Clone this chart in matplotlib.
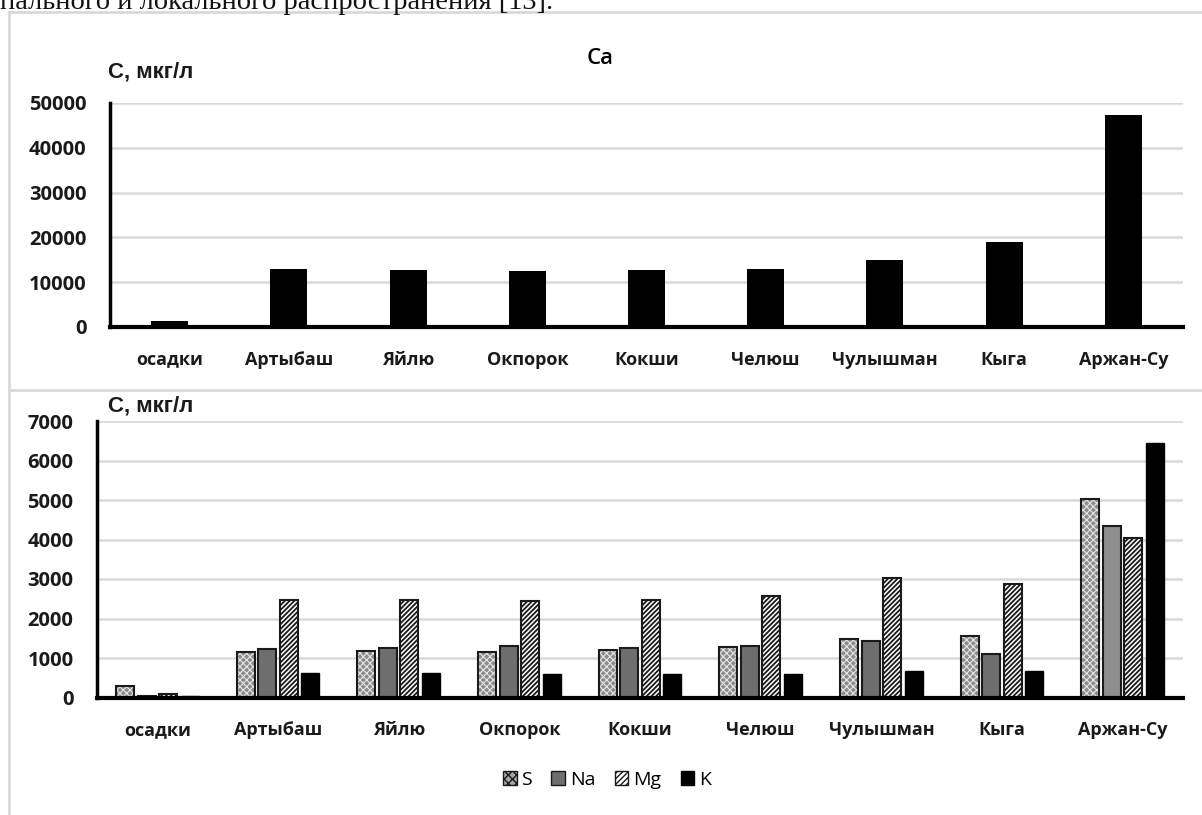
import numpy as np
import matplotlib.pyplot as plt
from matplotlib.patches import Patch

plt.rcParams['hatch.linewidth'] = 1.0

sites = ['осадки', 'Артыбаш', 'Яйлю', 'Окпорок', 'Кокши', 'Челюш', 'Чулышман', 'Кыга', 'Аржан-Су']
ca = [1300, 12950, 12650, 12500, 12650, 13000, 14950, 19000, 47300]
s_vals = [290, 1140, 1180, 1140, 1190, 1270, 1490, 1550, 5025]
na_vals = [45, 1235, 1265, 1295, 1250, 1295, 1440, 1105, 4345]
mg_vals = [85, 2480, 2465, 2440, 2480, 2580, 3020, 2875, 4040]
k_vals = [45, 610, 610, 605, 595, 600, 660, 680, 6455]

W, H = 1202, 815
fig = plt.figure(figsize=(W / 100, H / 100), dpi=100)

lab_font = ['Open Sans', 'DejaVu Sans']
grid_c = '#d9d9d9'


def px_axes(left, top, right, bottom):
    return fig.add_axes([left / W, 1 - bottom / H, (right - left) / W, (bottom - top) / H])


def style(ax, ymax, step):
    ax.set_ylim(0, ymax)
    ax.set_xlim(-0.5, len(sites) - 0.5)
    ax.set_yticks(np.arange(0, ymax + 1, step))
    ax.set_xticks(np.arange(len(sites)))
    ax.set_xticklabels(sites)
    for sp in ['top', 'right']:
        ax.spines[sp].set_visible(False)
    ax.spines['left'].set_linewidth(2.5)
    ax.spines['bottom'].set_linewidth(3)
    ax.tick_params(length=0)
    ax.tick_params(axis='y', pad=17)
    ax.tick_params(axis='x', pad=17)
    for t in ax.get_xticklabels():
        t.set_fontsize(13)
    for t in ax.get_yticklabels():
        t.set_fontsize(14.5)
    for t in ax.get_xticklabels() + ax.get_yticklabels():
        t.set_family(lab_font)
        t.set_fontweight('bold')
        t.set_color('#1a1a1a')
    ax.yaxis.grid(True, color=grid_c, lw=1.8)
    ax.set_axisbelow(True)


# page text above the chart block (cut by the image edge)
fig.text(0, 1 - 9 / H, 'пального и локального распространения [13].',
         family='Liberation Serif', fontsize=20.5, va='baseline', ha='left', color='#111111')

# chart frames
frame_kw = dict(color=grid_c, lw=2, transform=fig.transFigure)
fig.add_artist(plt.Line2D([9 / W, 9 / W], [0, 1 - 12 / H], **frame_kw))
fig.add_artist(plt.Line2D([9 / W, 1], [1 - 12 / H, 1 - 12 / H], **frame_kw))
fig.add_artist(plt.Line2D([9 / W, 1], [1 - 390 / H, 1 - 390 / H], **frame_kw))

# Ca panel
ax1 = px_axes(110, 103, 1183, 327)
x = np.arange(len(sites))
ax1.bar(x, ca, width=0.31, color='black')
style(ax1, 50000, 10000)
fig.text(600 / W, 1 - 58 / H, 'Ca', family=lab_font, fontweight='semibold', fontsize=16,
         ha='center', va='center')
fig.text(108 / W, 1 - 72 / H, 'С, мкг/л', family='Liberation Sans', fontweight='bold',
         fontsize=16, ha='left', va='center', color='#1a1a1a')

# S, Na, Mg, K panel
ax2 = px_axes(97, 421, 1183, 697.5)
bw = 0.15
step = 0.178
offs = (np.arange(4) - 1.5) * step
na_colors = ['#6e6e6e'] * (len(sites) - 1) + ['#8f8f8f']

plt.rcParams['hatch.linewidth'] = 0.8
ax2.bar(x + offs[0], s_vals, width=bw, color='#8c8c8c', edgecolor='#e6e6e6', hatch='xxxxx', lw=0)
ax2.bar(x + offs[0], s_vals, width=bw, fill=False, edgecolor='#1a1a1a', lw=1.5)
ax2.bar(x + offs[1], na_vals, width=bw, color=na_colors, edgecolor='#1a1a1a', lw=1.5)
plt.rcParams['hatch.linewidth'] = 1.3
ax2.bar(x + offs[2], mg_vals, width=bw, color='white', edgecolor='#1a1a1a', hatch='///////', lw=1.5)
ax2.bar(x + offs[3], k_vals, width=bw, color='black', edgecolor='black', lw=1.0)
style(ax2, 7000, 1000)
fig.text(108 / W, 1 - 406 / H, 'С, мкг/л', family='Liberation Sans', fontweight='bold',
         fontsize=16, ha='left', va='center', color='#1a1a1a')

plt.rcParams['hatch.linewidth'] = 1.0
handles = [
    Patch(facecolor='#a6a6a6', edgecolor='#1a1a1a', hatch='xxxx', lw=1),
    Patch(facecolor='#6e6e6e', edgecolor='#1a1a1a', lw=1),
    Patch(facecolor='white', edgecolor='#1a1a1a', hatch='//////', lw=1),
    Patch(facecolor='black', edgecolor='black', lw=1),
]
fig.legend(handles, ['S', 'Na', 'Mg', 'K'], loc='center', bbox_to_anchor=(607 / W, 1 - 780 / H),
           ncol=4, frameon=False, handlelength=0.7, handleheight=0.7, handletextpad=0.25,
           columnspacing=1.0, prop={'family': lab_font, 'size': 14})

fig.savefig('out.png', dpi=100)
